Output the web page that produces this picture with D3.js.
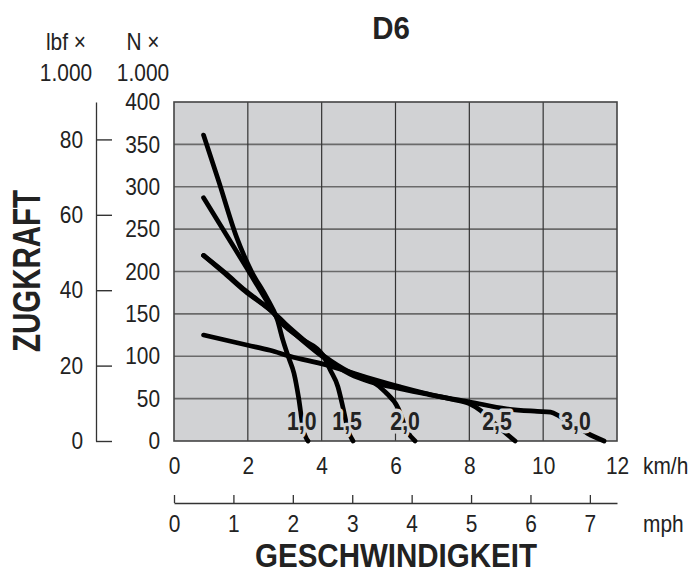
<!DOCTYPE html>
<html>
<head>
<meta charset="utf-8">
<script src="https://cdn.jsdelivr.net/npm/d3@7"></script>
<style>
    body { margin: 0; background: #fff; }
    #chart { width: 695px; height: 573px; }
    text { font-family: "Liberation Sans", Arial, sans-serif; fill: #222; }
</style>
</head>
<body>
<div id="chart"></div>
<script>
// tick values
const kmhTicks = [0, 2, 4, 6, 8, 10, 12];
const mphTicks = [0, 1, 2, 3, 4, 5, 6, 7];
const newtonTicks = [0, 50, 100, 150, 200, 250, 300, 350, 400];
const lbfTicks = [0, 20, 40, 60, 80];

// curves (speed km/h, pull N x 1000)
const curveNames = ["1,0", "1,5", "2,0", "2,5", "3,0"];
const curveSpeeds = [
    [0.8, 1.2, 1.7, 2.1, 2.5, 2.8, 2.95, 3.1, 3.25, 3.38, 3.5, 3.63],
    [0.8, 1.45, 2.0, 2.5, 2.8, 3.4, 4.04, 4.23, 4.44, 4.58, 4.72, 4.85],
    [0.8, 1.37, 1.92, 2.74, 3.0, 3.47, 4.04, 4.77, 5.31, 5.72, 6.07, 6.31, 6.53],
    [0.8, 1.37, 1.92, 2.74, 3.0, 3.47, 4.04, 4.77, 5.31, 6.0, 7.0, 7.56, 8.0, 8.3, 8.65, 9.02, 9.24],
    [0.8, 2.0, 2.6, 3.14, 4.1, 5.23, 6.12, 7.13, 8.02, 9.0, 9.84, 10.2, 10.45, 10.8, 11.2, 11.65]
];
const curveForces = [
    [361, 308, 240, 200, 170, 143, 119, 99, 80, 50, 14, 0],
    [287, 241, 202, 166, 145, 122, 101, 84, 64, 39, 12, 0],
    [219, 199, 178, 150, 139, 121, 101, 81, 72, 58, 39, 12, 0],
    [219, 198, 177, 149, 137, 119, 99, 79, 70, 63, 54, 49, 44, 36, 22, 8, 0],
    [125, 113, 107, 100, 90, 75, 64, 53, 46, 38, 35, 34, 29, 20, 9, 0]
];
const labelSpeeds = [3.46, 4.69, 6.26, 8.75, 10.89];
const labelForce = 13;

const LBF_TO_KN = 4.448222;
const MPH_TO_KMH = 1.609344;

// squeeze a regular sans into the narrow look of the sheet
function condense(selection, factor) {
    selection.each(function () {
        const w = this.getComputedTextLength();
        d3.select(this)
            .attr("textLength", w * factor)
            .attr("lengthAdjust", "spacingAndGlyphs");
    });
}

class PullChart {

    constructor(parentElement) {
        this.parentElement = parentElement;
        this.initVis();
    }

    initVis() {
        let vis = this;

        vis.width = 695;
        vis.height = 573;
        vis.plot = { left: 174, right: 617, top: 102, bottom: 441 };

        vis.svg = d3.select("#" + vis.parentElement).append("svg")
            .attr("width", vis.width)
            .attr("height", vis.height);

        vis.x = d3.scaleLinear().domain([0, 12]).range([vis.plot.left, vis.plot.right]);
        vis.y = d3.scaleLinear().domain([0, 400]).range([vis.plot.bottom, vis.plot.top]);
        vis.xMph = d3.scaleLinear().domain([0, 12 / MPH_TO_KMH]).range([vis.plot.left, vis.plot.right]);
        vis.yLbf = d3.scaleLinear().domain([0, 400 / LBF_TO_KN]).range([vis.plot.bottom, vis.plot.top]);

        // plot background + grid
        vis.svg.append("rect")
            .attr("x", vis.plot.left)
            .attr("y", vis.plot.top)
            .attr("width", vis.plot.right - vis.plot.left)
            .attr("height", vis.plot.bottom - vis.plot.top)
            .attr("fill", "#d1d2d4");

        vis.svg.append("g").selectAll("line")
            .data(newtonTicks.slice(1, -1))
            .enter().append("line")
            .attr("x1", vis.plot.left).attr("x2", vis.plot.right)
            .attr("y1", d => vis.y(d)).attr("y2", d => vis.y(d))
            .attr("stroke", "#6a6a6a").attr("stroke-width", 1.6);

        vis.svg.append("g").selectAll("line")
            .data(kmhTicks.slice(1, -1))
            .enter().append("line")
            .attr("x1", d => vis.x(d)).attr("x2", d => vis.x(d))
            .attr("y1", vis.plot.top).attr("y2", vis.plot.bottom)
            .attr("stroke", "#333").attr("stroke-width", 1.2);

        vis.svg.append("rect")
            .attr("x", vis.plot.left)
            .attr("y", vis.plot.top)
            .attr("width", vis.plot.right - vis.plot.left)
            .attr("height", vis.plot.bottom - vis.plot.top)
            .attr("fill", "none")
            .attr("stroke", "#444")
            .attr("stroke-width", 1.6);

        // N axis labels (no line)
        let nAxis = vis.svg.append("g")
            .attr("transform", "translate(163,0)")
            .call(d3.axisLeft(vis.y).tickValues(newtonTicks).tickSize(0).tickPadding(3));
        nAxis.select(".domain").remove();

        // lbf axis
        let lbfAxis = vis.svg.append("g")
            .attr("transform", "translate(96,0)")
            .call(d3.axisLeft(vis.yLbf).tickValues(lbfTicks).tickSizeInner(-16).tickSizeOuter(0).tickPadding(13));
        lbfAxis.select(".domain").attr("stroke", "#333").attr("stroke-width", 1.3);
        lbfAxis.selectAll(".tick line").attr("stroke", "#333").attr("stroke-width", 1.4);

        // km/h labels
        let kmAxis = vis.svg.append("g")
            .attr("transform", `translate(0,${vis.plot.bottom})`)
            .call(d3.axisBottom(vis.x).tickValues(kmhTicks).tickSize(0).tickPadding(16));
        kmAxis.select(".domain").remove();

        // mph axis
        let mphAxis = vis.svg.append("g")
            .attr("transform", "translate(0,503)")
            .call(d3.axisBottom(vis.xMph).tickValues(mphTicks).tickSizeInner(-8).tickSizeOuter(0).tickPadding(12));
        mphAxis.select(".domain").attr("stroke", "#333").attr("stroke-width", 1.3);
        mphAxis.selectAll(".tick line").attr("stroke", "#333").attr("stroke-width", 1.3);

        vis.svg.selectAll(".tick text")
            .attr("font-size", 24)
            .attr("fill", "#222");

        // units
        const unitTexts = [
            { t: "km/h", x: 643, y: 474, a: "start" },
            { t: "mph", x: 643, y: 532, a: "start" },
            { t: "lbf ×", x: 66, y: 50, a: "middle" },
            { t: "1.000", x: 66, y: 81, a: "middle" },
            { t: "N ×", x: 143, y: 50, a: "middle" },
            { t: "1.000", x: 143, y: 81, a: "middle" }
        ];
        vis.svg.append("g").selectAll("text")
            .data(unitTexts)
            .enter().append("text")
            .attr("class", "unit")
            .attr("x", d => d.x).attr("y", d => d.y)
            .attr("text-anchor", d => d.a)
            .attr("font-size", 24)
            .text(d => d.t);

        // titles
        vis.svg.append("text")
            .attr("class", "title")
            .attr("x", 391).attr("y", 39)
            .attr("font-size", 31).attr("font-weight", "bold")
            .attr("text-anchor", "middle")
            .text("D6");

        vis.svg.append("text")
            .attr("transform", "translate(40,271) rotate(-90)")
            .attr("font-size", 38).attr("font-weight", "bold")
            .attr("text-anchor", "middle")
            .attr("textLength", 162).attr("lengthAdjust", "spacingAndGlyphs")
            .text("ZUGKRAFT");

        vis.svg.append("text")
            .attr("x", 396).attr("y", 567)
            .attr("font-size", 33).attr("font-weight", "bold")
            .attr("text-anchor", "middle")
            .attr("textLength", 282).attr("lengthAdjust", "spacingAndGlyphs")
            .text("GESCHWINDIGKEIT");

        vis.line = d3.line()
            .x(d => vis.x(d[0]))
            .y(d => vis.y(d[1]))
            .curve(d3.curveMonotoneX);

        vis.curveLayer = vis.svg.append("g");
        vis.labelLayer = vis.svg.append("g");

        vis.wrangleData();
    }

    wrangleData() {
        let vis = this;

        vis.displayData = curveNames.map((name, i) => ({
            name: name,
            points: curveSpeeds[i].map((s, j) => [s, curveForces[i][j]]),
            labelSpeed: labelSpeeds[i]
        }));

        vis.updateVis();
    }

    updateVis() {
        let vis = this;

        vis.curveLayer.selectAll(".pull-curve")
            .data(vis.displayData)
            .enter().append("path")
            .attr("class", "pull-curve")
            .attr("d", d => vis.line(d.points))
            .attr("fill", "none")
            .attr("stroke", "#000")
            .attr("stroke-width", 4.7)
            .attr("stroke-linecap", "round");

        // labels knock the curve out behind them
        vis.labelLayer.selectAll(".curve-label")
            .data(vis.displayData)
            .enter().append("text")
            .attr("class", "curve-label")
            .attr("x", d => vis.x(d.labelSpeed))
            .attr("y", vis.y(labelForce))
            .attr("text-anchor", "middle")
            .attr("font-size", 25)
            .attr("font-weight", "bold")
            .attr("stroke", "#d1d2d4")
            .attr("stroke-width", 7)
            .attr("stroke-linejoin", "round")
            .attr("paint-order", "stroke")
            .attr("fill", "#222")
            .text(d => d.name);

        condense(vis.svg.selectAll(".tick text, .unit"), 0.87);
        condense(vis.svg.selectAll(".curve-label"), 0.85);
        condense(vis.svg.selectAll(".title"), 0.95);
    }
}

new PullChart("chart");
</script>
</body>
</html>
